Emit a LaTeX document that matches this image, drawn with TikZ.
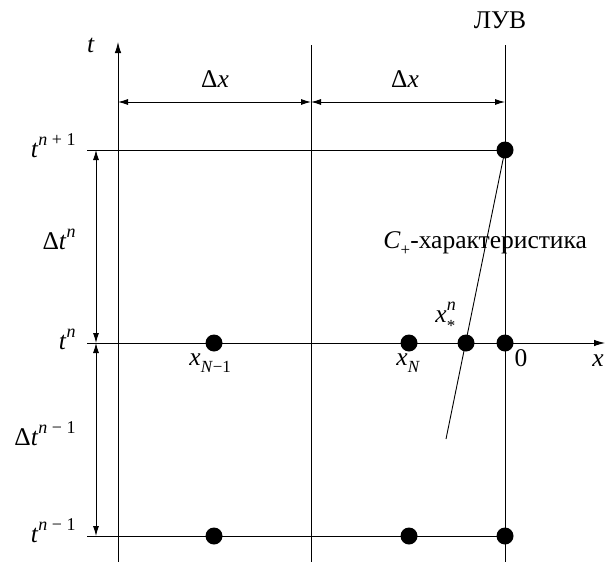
\documentclass[tikz,border=0pt]{standalone}
\usepackage{fontspec}
\setmainfont{Liberation Serif}
\usetikzlibrary{arrows.meta}
\newcommand\mysup[1]{\raisebox{0.45em}{\fontsize{18}{18}\selectfont #1}}
\newcommand\mysub[1]{\raisebox{-0.28em}{\fontsize{17}{17}\selectfont #1}}
\begin{document}
\begin{tikzpicture}[x=1pt,y=-1pt, line width=0.9pt,
  lbl/.style={inner sep=0pt, font=\fontsize{25.5}{30}\selectfont},
  dot/.style={circle, fill=black, inner sep=0pt, minimum size=17pt},
  dim/.style={{Latex[length=10pt,width=6pt]}-{Latex[length=10pt,width=6pt]}},
  axis/.style={-{Latex[length=11pt,width=6.5pt]}}]
\useasboundingbox (0,0) rectangle (608,562);
% grid coordinates
\coordinate (tb) at (118,562); \coordinate (tt) at (118,42);
\coordinate (mb) at (311,562); \coordinate (mt) at (311,45);
\coordinate (lb) at (505,562); \coordinate (lt) at (505,45);
\coordinate (h1) at (87,150); \coordinate (h2) at (87,343);
\coordinate (h3) at (87,536); \coordinate (xe) at (605,343);
\coordinate (ce) at (446,439);
% dots
\node[dot] (d1) at (505,150) {};
\node[dot] (d2) at (214,343) {};
\node[dot] (d3) at (409,343) {};
\node[dot] (d4) at (466,343) {};
\node[dot] (d5) at (505,343) {};
\node[dot] (d6) at (214,536) {};
\node[dot] (d7) at (409,536) {};
\node[dot] (d8) at (505,536) {};
% lines
\draw[axis] (tb) -- (tt);
\draw (mb) -- (mt);
\draw (lb) -- (lt);
\draw (h1) -- (d1.center);
\draw[axis] (h2) -- (xe);
\draw (h3) -- (d8.center);
\draw (d1.center) -- (ce);
% dimension arrows
\coordinate (dx1) at (118,102); \coordinate (dx2) at (311,102); \coordinate (dx3) at (505,102);
\draw[dim] (dx1) -- (dx2);
\draw[dim] (dx2) -- (dx3);
\coordinate (dt1) at (96,150); \coordinate (dt2) at (96,343); \coordinate (dt3) at (96,536);
\draw[dim] (dt1) -- (dt2);
\draw[dim] (dt2) -- (dt3);
% labels
\node[lbl, anchor=base] (ltl) at (91,52) {\textit{t}};
\node[lbl, anchor=base] (luv) at (500,28) {ЛУВ};
\node[lbl, anchor=base] (ldx1) at (215,87) {Δ\textit{x}};
\node[lbl, anchor=base] (ldx2) at (405,87) {Δ\textit{x}};
\node[lbl, anchor=base east] (ltn1) at (76,157) {\textit{t}\mysup{\textit{n} + 1}};
\node[lbl, anchor=base east] (ldtn) at (76,249) {Δ\textit{t}\mysup{\textit{n}}};
\node[lbl, anchor=base east] (ltn) at (76,349) {\textit{t}\mysup{\textit{n}}};
\node[lbl, anchor=base east] (ldtn0) at (76,445) {Δ\textit{t}\mysup{\textit{n} − 1}};
\node[lbl, anchor=base east] (ltn0) at (76,542) {\textit{t}\mysup{\textit{n} − 1}};
\node[lbl, anchor=base west] (lxn1) at (189,365) {\textit{x}\mysub{\textit{N}−1}};
\node[lbl, anchor=base west] (lxn) at (396,365) {\textit{x}\mysub{\textit{N}}};
\node[lbl, anchor=base] (l0) at (521,366) {0};
\node[lbl, anchor=base] (lx) at (598,366) {\textit{x}};
\node[lbl, anchor=base west] (lxs) at (435,322) {\textit{x}\rlap{\mysup{\textit{n}}}\raisebox{-0.36em}{\fontsize{17}{17}\selectfont *}};
\node[lbl, anchor=base west] (lc) at (383,248) {\textit{C}\mysub{+}-характеристика};
\end{tikzpicture}
\end{document}
